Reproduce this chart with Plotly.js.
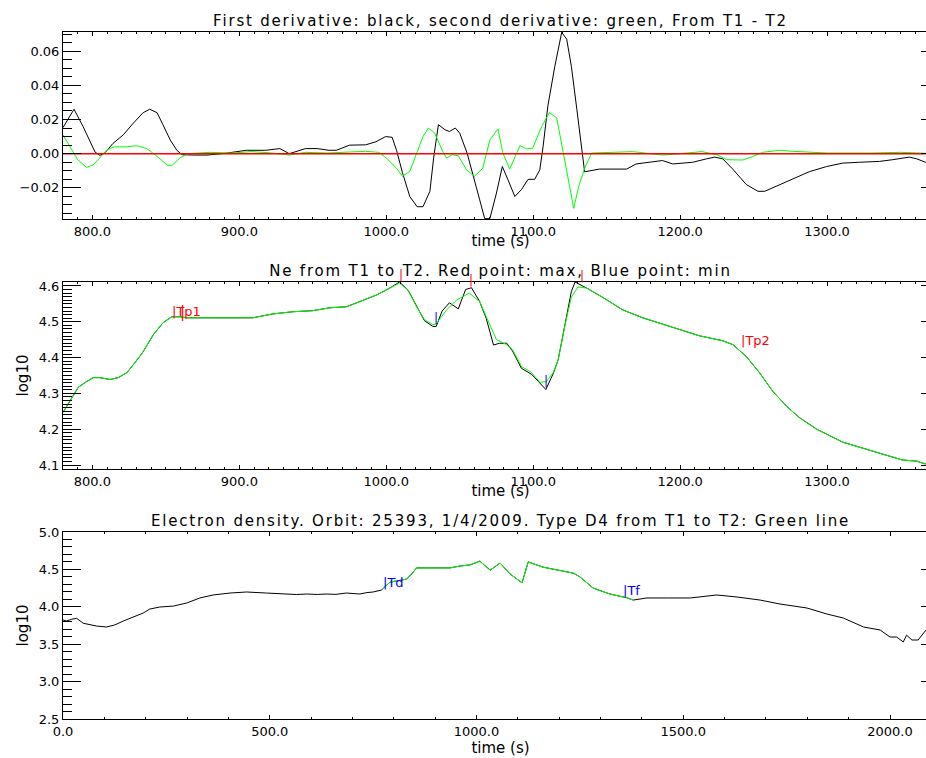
<!DOCTYPE html>
<html><head><meta charset="utf-8">
<script src="https://cdn.plot.ly/plotly-3.0.1.min.js"></script>
<style>
html,body{margin:0;padding:0;overflow:hidden;background:#fff;width:926px;height:758px;}
.panel{position:absolute;left:0;width:950px;}
#c1{top:0;height:250px;}
#c2{top:250px;height:250px;}
#c3{top:500px;height:258px;}
.gtitle{letter-spacing:1.8px;}
</style></head><body>
<div id="c1" class="panel"></div><div id="c2" class="panel"></div><div id="c3" class="panel"></div>
<script>
// ---------- Panel 1: derivatives ----------
const d1T = [780,787.5,793.6,798,801.8,805,808.6,814,821,828,834.5,839,844,848,853,857.5,861,870,878,890,905,918,927.6,934,940,945,953,961,966,975,986,993,999.5,1004,1007,1011,1016,1021,1025,1029.7,1032.3,1035.5,1040,1043,1047,1050,1055,1059,1063.6,1067,1070.5,1075,1079,1082.7,1087.5,1092,1096.5,1101,1104.5,1106.7,1110,1114.7,1119.4,1122.8,1126,1129.7,1133,1135,1145,1163.6,1170,1179,1188,1195,1208.6,1218,1223.5,1229,1235.8,1245,1253,1257.6,1263,1276.6,1288,1299.7,1310.6,1322,1335.8,1344.6,1356,1361,1367,1375];
const d1V = [0.0153,0.026,0.016,0.008,0.001,-0.001,0.0006,0.006,0.011,0.018,0.024,0.026,0.024,0.017,0.008,0.002,-0.0006,-0.0008,-0.0008,0.0002,0.002,0.002,0.003,0.0,0.0014,0.003,0.003,0.002,0.002,0.005,0.0052,0.007,0.010,0.0096,0.002,-0.011,-0.025,-0.031,-0.031,-0.022,-0.002,0.017,0.014,0.013,0.015,0.012,0.0004,-0.013,-0.027,-0.038,-0.038,-0.023,-0.0075,-0.015,-0.025,-0.021,-0.015,-0.015,-0.0094,0.004,0.028,0.051,0.071,0.067,0.051,0.026,0.0024,-0.0106,-0.009,-0.009,-0.006,-0.005,-0.004,-0.006,-0.005,-0.003,-0.002,-0.003,-0.009,-0.018,-0.022,-0.022,-0.020,-0.015,-0.0105,-0.0075,-0.0055,-0.005,-0.0045,-0.0035,-0.002,-0.003,-0.005,-0.007];
const d2T = [780,784.8,790,796,800.6,805,810,815,823,830,837,844,850.7,854,859.6,865,880,895,908,920,934,945,960,975,986,995,1000,1007,1011,1016,1021,1025,1028.6,1033,1038.6,1041,1045,1049,1054.6,1060,1065.7,1070.5,1076,1079.4,1084,1091,1095.6,1099.7,1105.8,1111,1116,1120,1123.5,1127.6,1131,1135,1139.8,1150,1167.8,1188.6,1205,1215,1225,1231.6,1242.6,1249,1256,1267.8,1276.6,1300,1330,1350,1375];
const d2V = [0.011,0.004,-0.0035,-0.008,-0.0065,-0.0025,0.0024,0.004,0.004,0.0047,0.003,-0.0015,-0.0065,-0.007,-0.0025,0.0,0.0008,0.0004,0.0012,0.0006,-0.0008,0.0008,0.0004,0.001,0.0014,0.0008,-0.0025,-0.0085,-0.0133,-0.0104,0.0004,0.010,0.015,0.012,0.001,-0.0025,-0.0006,-0.0012,-0.0094,-0.0133,-0.0085,0.008,0.0145,0.0004,-0.009,0.0047,0.0028,0.0033,0.016,0.024,0.021,0.0024,-0.015,-0.032,-0.019,-0.0085,0.0004,0.0008,0.0012,-0.0008,0.0004,0.0012,-0.0006,-0.0035,-0.0037,-0.0018,0.0008,0.002,0.0014,0.0004,0.0004,0.0008,0.0];
const zeroT = [780,1375.5];
const zeroV = [0,0];

// ---------- Panel 2: Ne from T1 to T2 (log10) ----------
const neT = [780,786,790.4,796,800.6,805,812,817.6,823.5,829,834.6,841.5,848,854,859.6,865,873,895.8,909,923,936.6,950,961.6,973,982,993.6,1002.4,1009,1014.7,1020.6,1026,1031.7,1034,1041,1048,1056.5,1063.6,1068,1075,1082,1086,1092,1099,1104.5,1109,1113.6,1117,1122,1126,1130.5,1136.4,1147,1161,1174.6,1186,1197.6,1213,1229,1236,1245,1254,1263,1272.5,1281,1293,1310.6,1322,1335.8,1351.4,1361,1367,1375];
const neSmooth = [4.247,4.289,4.317,4.333,4.344,4.344,4.339,4.344,4.358,4.386,4.417,4.464,4.497,4.514,4.514,4.511,4.511,4.511,4.511,4.522,4.528,4.531,4.539,4.542,4.556,4.575,4.594,4.608,4.589,4.542,4.506,4.492,4.494,4.533,4.561,4.58,4.556,4.514,4.45,4.436,4.422,4.375,4.358,4.331,4.333,4.358,4.394,4.497,4.569,4.597,4.594,4.569,4.533,4.511,4.497,4.481,4.461,4.447,4.436,4.403,4.358,4.306,4.264,4.233,4.2,4.164,4.15,4.133,4.114,4.111,4.103,4.09];
const neRawT = [780,786,790.4,796,800.6,805,812,817.6,823.5,829,834.6,841.5,848,854,859.6,865,873,895.8,909,923,936.6,950,961.6,973,982,993.6,1002.4,1009,1014.7,1020.6,1026,1031.7,1034,1038,1043,1049,1054,1058,1063.6,1068,1073,1077,1082,1086,1092,1099,1104.5,1108.6,1113.6,1117,1122,1126,1128.5,1131,1136.4,1147,1161,1174.6,1186,1197.6,1213,1229,1236,1245,1254,1263,1272.5,1281,1293,1310.6,1322,1335.8,1351.4,1361,1367,1375];
const neRaw = [4.247,4.289,4.317,4.333,4.344,4.344,4.339,4.344,4.358,4.386,4.417,4.464,4.497,4.514,4.514,4.511,4.511,4.511,4.511,4.522,4.528,4.531,4.539,4.542,4.556,4.575,4.594,4.611,4.589,4.542,4.503,4.487,4.487,4.53,4.553,4.536,4.59,4.595,4.556,4.51,4.435,4.44,4.44,4.418,4.37,4.353,4.33,4.311,4.355,4.394,4.5,4.585,4.611,4.606,4.594,4.569,4.533,4.511,4.497,4.481,4.461,4.447,4.436,4.403,4.358,4.306,4.264,4.233,4.2,4.164,4.15,4.133,4.114,4.111,4.103,4.09];
const maxT = [1010,1058,1133];
const maxV = [4.609,4.595,4.606];
const minT = [1034,1109];
const minV = [4.487,4.311];
const tpLabels = ['|Tp1','|Tp2'];
const tpT = [853.6,1240.6];
const tpV = [4.506,4.425];
const t1MarkT = [861];
const t1MarkV = [4.500];

// ---------- Panel 3: Electron density, full orbit ----------
const denT = [0,8,21,33,49,65,81,105,125,146,170,194,210,234,267,299,331,363,404,444,492,520,541,565,589,615,637,660,685,705,718,735,750,771,775,791,811,831,845,855,879,936,960,984,1008,1033,1057,1081,1110,1125,1161,1234,1250,1282,1323,1364,1379,1412,1461,1517,1581,1630,1686,1734,1799,1847,1887,1936,1976,2000,2016,2032,2040,2053,2068,2087,2116];
const denV = [3.824,3.81,3.833,3.846,3.78,3.757,3.743,3.73,3.757,3.81,3.864,3.917,3.97,3.997,4.01,4.05,4.118,4.158,4.184,4.198,4.184,4.178,4.171,4.164,4.171,4.165,4.171,4.166,4.184,4.178,4.171,4.19,4.198,4.225,4.251,4.33,4.345,4.37,4.45,4.52,4.52,4.52,4.545,4.56,4.61,4.49,4.585,4.44,4.32,4.6,4.53,4.45,4.4,4.25,4.17,4.12,4.09,4.118,4.118,4.118,4.158,4.131,4.09,4.037,3.984,3.904,3.85,3.73,3.69,3.596,3.596,3.53,3.62,3.556,3.556,3.69,3.85];
const typeT = [771,775,791,811,831,845,855,879,936,960,984,1008,1033,1057,1081,1110,1125,1161,1234,1250,1282,1323,1364,1379];
const typeV = [4.225,4.251,4.33,4.345,4.37,4.45,4.52,4.52,4.52,4.545,4.56,4.61,4.49,4.585,4.44,4.32,4.6,4.53,4.45,4.4,4.25,4.17,4.12,4.09];
const tdLabels = ['|Td','|Tf'];
const tdT = [771,1352];
const tdV = [4.21,4.10];

// ---------- Titles ----------
const titles = [
  'First derivative: black, second derivative: green, From T1 - T2',
  'Ne from T1 to T2. Red point: max, Blue point: min',
  'Electron density. Orbit: 25393, 1/4/2009. Type D4 from T1 to T2: Green line'
];

const FONT = 'DejaVu Sans, Verdana, sans-serif';
const GREEN = '#00ff00', RED = '#ff0000', BLUE = '#0000ff';
const tickFont = {family:FONT, size:13, color:'#000'};

function xAxis(range, dtick, mdtick){
  return {range, dtick, tick0:0, tickformat:'.1f',
    ticks:'inside', ticklen:4, tickcolor:'#000',
    minor:{dtick:mdtick, ticks:'inside', ticklen:2, tickcolor:'#000'},
    showline:true, linecolor:'#000', mirror:'ticks',
    showgrid:false, zeroline:false, tickfont:tickFont,
    title:{text:'time (s)', font:{family:FONT, size:15, color:'#000'}, standoff:0}};
}
function yAxis(range, dtick, mdtick, fmt, title){
  const a = {range, dtick, tick0:0, tickformat:fmt,
    ticks:'inside', ticklen:17.5, tickcolor:'#000',
    minor:{dtick:mdtick, ticks:'inside', ticklen:9, tickcolor:'#000'},
    showline:true, linecolor:'#000', mirror:'ticks',
    showgrid:false, zeroline:false, tickfont:tickFont};
  if (title) a.title = {text:title, font:{family:FONT, size:15, color:'#000'}, standoff:6};
  return a;
}
function baseLayout(h, title, xa, ya, annotations){
  return {width:950, height:h, margin:{l:63, r:12, t:32, b:h-219},
    showlegend:false, font:{family:FONT, color:'#000'},
    title:{text:title, font:{family:FONT, size:15, color:'#000'}, x:0.5, xref:'paper', xanchor:'center',
      y:1-21/h, yref:'container', yanchor:'middle'},
    xaxis:xa, yaxis:ya, annotations:annotations || []};
}
function marks(ts, vs, size, color){
  return ts.map((t,i)=>({text:'|', x:t, y:vs[i], xref:'x', yref:'y', xanchor:'center', yanchor:'bottom',
    showarrow:false, borderpad:0, font:{family:FONT, size, color}}));
}
function labels(txt, ts, vs, color){
  return txt.map((s,i)=>({text:s, x:ts[i], y:vs[i], xref:'x', yref:'y', xanchor:'left', yanchor:'bottom',
    showarrow:false, borderpad:0, font:{family:FONT, size:13, color}}));
}
const cfg = {staticPlot:true, displayModeBar:false};

// Panel 1
Plotly.newPlot('c1', [
  {x:d1T, y:d1V, mode:'lines', line:{color:'#000', width:1}},
  {x:d2T, y:d2V, mode:'lines', line:{color:GREEN, width:1}},
  {x:zeroT, y:zeroV, mode:'lines', line:{color:RED, width:1.5}}
], baseLayout(250, titles[0], xAxis([780,1375.5],100,10), yAxis([-0.0382,0.0712],0.02,0.005,'.2f',null)), cfg);

// Panel 2
Plotly.newPlot('c2', [
  {x:neRawT, y:neRaw, mode:'lines', line:{color:'#000', width:1}},
  {x:neT, y:neSmooth, mode:'lines', line:{color:GREEN, width:1}}
], baseLayout(250, titles[1], xAxis([780,1375.5],100,10), yAxis([4.089,4.611],0.1,0.01,'.1f','log10'),
  [].concat(marks(maxT, maxV, 12, RED), marks(minT, minV, 12, BLUE), marks(t1MarkT, t1MarkV, 15, RED),
            labels(tpLabels, tpT, tpV, RED))), cfg);

// Panel 3
Plotly.newPlot('c3', [
  {x:denT, y:denV, mode:'lines', line:{color:'#000', width:1}},
  {x:typeT, y:typeV, mode:'lines', line:{color:GREEN, width:1}}
], baseLayout(258, titles[2], xAxis([0,2116],500,100), yAxis([2.5,5.0],0.5,0.1,'.1f','log10'),
  labels(tdLabels, tdT, tdV, BLUE)), cfg);
</script></body></html>
